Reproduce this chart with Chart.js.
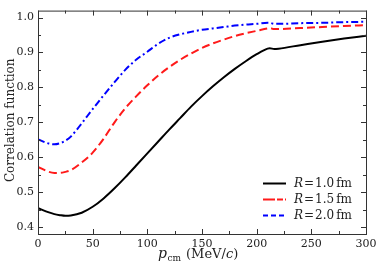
<!DOCTYPE html>
<html><head><meta charset="utf-8">
<script src="https://cdn.jsdelivr.net/npm/chart.js@4/dist/chart.umd.min.js"></script>
<style>html,body{margin:0;padding:0;background:#fff}#wrap{width:381px;height:270px}</style>
</head><body><div id="wrap"><canvas id="c" width="381" height="270"></canvas></div>
<script>
const pcm = [0,10,15,20,25,30,40,50,60,70,80,90,100,110,120,130,140,150,160,170,180,190,200,210,212,216,220,240,260,280,300];
const corrR10 = [0.454,0.442,0.437,0.434,0.432,0.433,0.441,0.458,0.482,0.511,0.543,0.577,0.611,0.645,0.679,0.712,0.745,0.775,0.803,0.829,0.853,0.875,0.895,0.911,0.912,0.910,0.911,0.921,0.931,0.940,0.948];
const corrR15 = [0.572,0.558,0.555,0.555,0.558,0.563,0.585,0.613,0.653,0.700,0.741,0.775,0.806,0.834,0.858,0.879,0.897,0.913,0.926,0.937,0.947,0.955,0.962,0.969,0.970,0.967,0.967,0.970,0.973,0.976,0.978];
const corrR20 = [0.651,0.639,0.637,0.640,0.647,0.659,0.697,0.738,0.777,0.815,0.851,0.880,0.902,0.925,0.942,0.952,0.959,0.965,0.969,0.973,0.977,0.980,0.982,0.985,0.985,0.982,0.982,0.984,0.985,0.987,0.988];
const seriesLabels = ["1.0","1.5","2.0"];
const xTicks = [0,50,100,150,200,250,300];
const yTicks = [0.4,0.5,0.6,0.7,0.8,0.9,1.0];

const SERIF = '"DejaVu Serif", serif';
function pts(vals){ return pcm.map((p,i)=>({x:p,y:vals[i]})); }

const frame = {
  id:'frame',
  afterDraw(chart){
    const ctx = chart.ctx, a = chart.chartArea;
    const xs = chart.scales.x, ys = chart.scales.y;
    ctx.save();
    ctx.strokeStyle = '#333'; ctx.lineWidth = 1;
    ctx.strokeRect(a.left+0.5, a.top+0.5, a.right-a.left, a.bottom-a.top);
    ctx.beginPath();
    for (let v=0; v<=300; v+=25){
      const px = Math.round(xs.getPixelForValue(v))+0.5;
      const L = (v%50===0)?5:3;
      ctx.moveTo(px,a.bottom); ctx.lineTo(px,a.bottom-L);
      ctx.moveTo(px,a.top); ctx.lineTo(px,a.top+L);
    }
    for (let k=0; k<=12; k++){
      const v = 0.40 + k*0.05;
      const py = Math.round(ys.getPixelForValue(v))+0.5;
      const L = (k%2===0)?5:3;
      ctx.moveTo(a.left,py); ctx.lineTo(a.left+L,py);
      ctx.moveTo(a.right,py); ctx.lineTo(a.right-L,py);
    }
    ctx.stroke();

    // y title
    ctx.fillStyle = '#222';
    ctx.save();
    ctx.translate(11, (a.top+a.bottom)/2 - 2);
    ctx.rotate(-Math.PI/2);
    ctx.font = '12px '+SERIF; ctx.textAlign='center'; ctx.textBaseline='middle';
    ctx.fillText('Correlation function', 0, 0);
    ctx.restore();

    // x title
    ctx.textBaseline = 'alphabetic';
    let x = 158, y = 258;
    ctx.font = 'italic 14px '+SERIF; ctx.fillText('p', x, y); x += ctx.measureText('p').width + 0.5;
    ctx.font = '9px '+SERIF; ctx.fillText('cm', x, y+3); x += ctx.measureText('cm').width + 5;
    ctx.font = '13px '+SERIF; ctx.fillText('(MeV/', x, y); x += ctx.measureText('(MeV/').width;
    ctx.font = 'italic 13px '+SERIF; ctx.fillText('c', x, y); x += ctx.measureText('c').width;
    ctx.font = '13px '+SERIF; ctx.fillText(')', x, y);

    // legend
    const rows = [183,199,215];
    const dashes = [[], [12,2,6,2], [5,3]];
    chart.data.datasets.forEach((ds,i)=>{
      const ry = rows[i];
      ctx.strokeStyle = ds.borderColor; ctx.lineWidth = 2;
      ctx.setLineDash(dashes[i]);
      ctx.beginPath(); ctx.moveTo(263,ry+0.5); ctx.lineTo(286,ry+0.5); ctx.stroke();
      ctx.setLineDash([]);
      let lx = 294;
      ctx.fillStyle = '#222'; ctx.textBaseline='middle';
      ctx.font = 'italic 12px '+SERIF; ctx.fillText('R', lx, ry+1); lx += ctx.measureText('R').width+1;
      ctx.font = '12px '+SERIF; ctx.fillText('=', lx, ry+1); lx += ctx.measureText('=').width+1;
      ctx.fillText(seriesLabels[i], lx, ry+1); lx += ctx.measureText(seriesLabels[i]).width+2;
      ctx.fillText('fm', lx, ry+1);
    });
    ctx.restore();
  }
};

new Chart(document.getElementById('c'), {
  type:'line',
  data:{ datasets:[
    {label:'R = 1.0 fm', data:pts(corrR10), borderColor:'#000000', borderWidth:2, pointRadius:0, cubicInterpolationMode:'monotone', fill:false},
    {label:'R = 1.5 fm', data:pts(corrR15), borderColor:'#ff1a1a', borderWidth:2, borderDash:[8,4], pointRadius:0, cubicInterpolationMode:'monotone', fill:false},
    {label:'R = 2.0 fm', data:pts(corrR20), borderColor:'#0000ff', borderWidth:2, borderDash:[7,3,2,3], pointRadius:0, cubicInterpolationMode:'monotone', fill:false}
  ]},
  plugins:[frame],
  options:{
    responsive:false, animation:false, devicePixelRatio:1,
    layout:{padding:{top:5,right:15,left:0,bottom:0}},
    plugins:{legend:{display:false}, tooltip:{enabled:false}},
    scales:{
      x:{type:'linear', min:0, max:300,
        afterBuildTicks(s){ s.ticks = xTicks.map(v=>({value:v})); },
        afterFit(s){ s.height = 36; },
        grid:{display:false, drawTicks:false}, border:{display:false},
        ticks:{padding:4, color:'#222', font:{family:SERIF, size:11}, callback:v=>String(v)}},
      y:{type:'linear', min:0.38, max:1.02,
        afterBuildTicks(s){ s.ticks = yTicks.map(v=>({value:v})); },
        afterFit(s){ s.width = 38; },
        grid:{display:false, drawTicks:false}, border:{display:false},
        ticks:{padding:4, color:'#222', font:{family:SERIF, size:11}, callback:v=>Number(v).toFixed(1)}}
    }
  }
});
</script></body></html>
